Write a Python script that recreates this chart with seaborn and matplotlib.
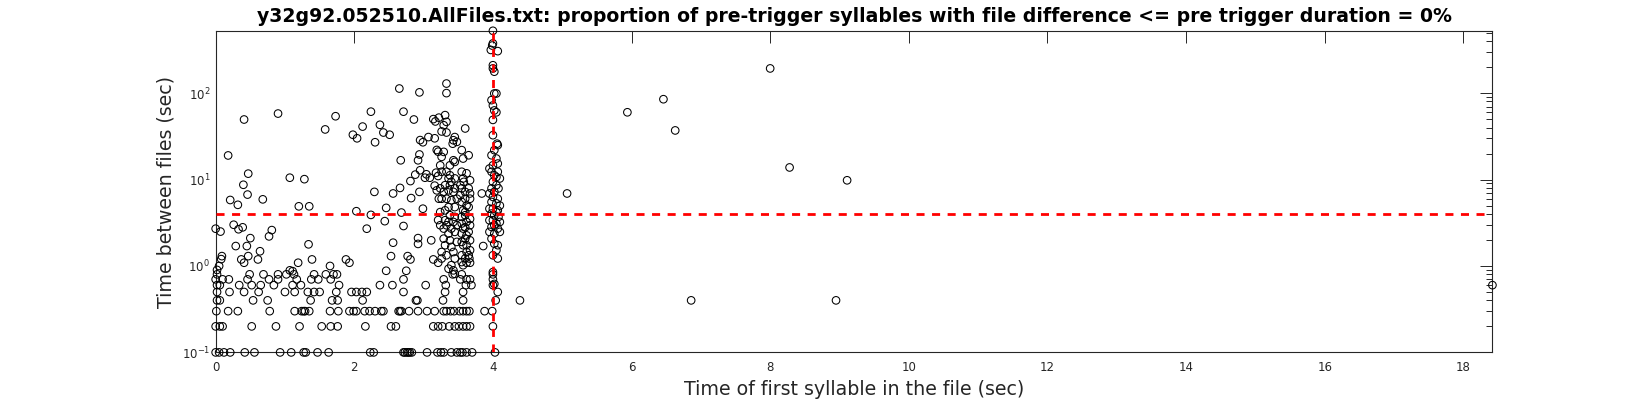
import numpy as np
import pandas as pd
import matplotlib
matplotlib.use('Agg')
import matplotlib.pyplot as plt
import seaborn as sns

# ---- data ----
# rows of quantised file differences (x values of first syllable per row)
row_y = [0.1, 0.2, 0.3, 0.4, 0.5, 0.6, 0.7, 0.8]
row_x = [
    [0.0, 0.05, 0.12, 0.21, 0.42, 0.56, 0.93, 1.09, 1.27, 1.30, 1.47, 1.63, 2.23, 2.28,
     2.71, 2.73, 2.76, 2.78, 2.80, 2.83, 3.05, 3.20, 3.25, 3.29, 3.40, 3.48, 3.53, 3.56,
     3.62, 3.70, 4.03],
    [0.0, 0.06, 0.10, 0.52, 0.87, 1.21, 1.53, 1.66, 1.76, 2.16, 2.53, 2.60, 3.14, 3.21,
     3.27, 3.37, 3.45, 3.51, 3.57, 3.62, 3.67, 4.0],
    [0.01, 0.18, 0.32, 0.78, 1.14, 1.24, 1.27, 1.29, 1.35, 1.65, 1.77, 1.93, 1.99, 2.03,
     2.15, 2.22, 2.30, 2.39, 2.42, 2.64, 2.66, 2.68, 2.79, 2.92, 3.05, 3.16, 3.29, 3.33,
     3.39, 3.44, 3.52, 3.57, 3.62, 3.66, 3.88, 3.99],
    [0.02, 0.06, 0.54, 0.75, 1.37, 1.68, 1.76, 2.12, 2.89, 2.91, 3.28, 3.57, 4.04, 4.39,
     6.86, 8.95],
    [0.02, 0.20, 0.41, 0.62, 1.00, 1.14, 1.33, 1.42, 1.50, 1.74, 1.96, 2.03, 2.11, 2.18,
     2.71, 3.31, 3.57, 4.07],
    [0.02, 0.06, 0.34, 0.52, 0.65, 0.84, 1.11, 1.23, 1.78, 2.37, 2.55, 3.03, 3.32, 3.61,
     3.69, 4.0, 18.42],
    [0.0, 0.10, 0.19, 0.46, 0.77, 0.90, 1.17, 1.38, 1.48, 1.66, 2.71, 3.29, 3.53, 3.62,
     3.67, 4.0],
    [0.02, 0.49, 0.69, 0.90, 1.02, 1.13, 1.42, 1.59, 1.70, 1.75, 3.42, 3.55, 4.0],
]

# first syllable before 2 s
left_x = [0.41, 0.90, 1.73, 1.58, 1.98, 0.18, 0.47, 0.40, 0.46, 0.21, 0.32, 0.68, 1.07,
          1.28, 1.20, 1.35, 0.0, 0.07, 0.26, 0.33, 0.39, 0.77, 0.81, 0.50, 0.29, 0.45,
          1.34, 0.64, 0.37, 0.47, 0.41, 0.61, 1.39, 1.19, 1.88, 1.93, 0.09, 0.08, 0.05,
          0.02, 1.11, 1.07, 1.65]
left_y = [49.5, 58, 54, 38, 33, 19, 11.7, 8.7, 6.7, 5.8, 5.1, 5.9, 10.5,
          10.1, 4.9, 4.9, 2.7, 2.5, 3.0, 2.66, 2.8, 2.2, 2.6, 2.1, 1.7, 1.7,
          1.78, 1.48, 1.19, 1.3, 1.09, 1.19, 1.19, 1.09, 1.19, 1.09, 1.3, 1.2, 1.0,
          0.9, 0.87, 0.89, 1.0]

# between 2 s and the dense cluster
mid_x = [2.65, 2.94, 2.24, 2.71, 2.86, 3.14, 3.17, 3.22, 2.12, 2.37, 2.42, 2.51, 2.04,
         2.30, 2.95, 2.99, 3.07, 3.16, 3.21, 3.19, 2.94, 2.92, 2.67, 2.95, 3.04, 3.09,
         3.02, 2.88, 2.81, 3.18, 3.21, 2.66, 2.56, 2.29, 2.94, 2.82, 3.16, 3.19, 3.22,
         2.03, 2.46, 2.68, 2.99, 2.24, 2.44, 2.18, 2.71, 3.21, 2.56, 2.92, 2.92, 3.11,
         2.53, 2.77, 2.81, 2.46, 2.75, 3.14, 3.21]
mid_y = [113, 102, 61, 61, 49.5, 50, 47, 52, 41, 43, 35, 33, 30,
         27, 28.6, 27, 31, 30, 21, 22, 19.5, 16.7, 16.7, 12.8, 11.5, 10.5,
         10.5, 11.4, 9.6, 12, 11, 8.0, 6.9, 7.2, 7.2, 6.1, 8.5, 7.5, 6.0,
         4.3, 4.7, 4.15, 4.6, 3.9, 3.3, 2.7, 2.9, 3.4, 1.86, 2.1, 1.8, 1.98,
         1.3, 1.3, 1.19, 0.88, 0.88, 1.19, 1.09]

# dense cluster 3.2 - 3.9 s
cluster_x = [3.33, 3.33, 3.31, 3.33, 3.29, 3.26, 3.33, 3.45, 3.43, 3.48, 3.42, 3.60,
             3.55, 3.65, 3.57, 3.43, 3.45, 3.38, 3.29, 3.26, 3.33, 3.38, 3.45, 3.57,
             3.58, 3.65, 3.53, 3.38, 3.43, 3.29, 3.33, 3.53, 3.60, 3.67, 3.62, 3.57,
             3.60, 3.45, 3.31, 3.38, 3.31, 3.33, 3.43, 3.48, 3.29, 3.40, 3.60, 3.62,
             3.57, 3.65, 3.60, 3.57, 3.62, 3.60, 3.55, 3.66, 3.38, 3.43, 3.31, 3.33,
             3.26, 3.40, 3.43, 3.45, 3.36,
             3.24, 3.26, 3.36, 3.40, 3.31, 3.24, 3.36, 3.45, 3.26, 3.40, 3.48, 3.36,
             3.24, 3.45, 3.36, 3.24, 3.45, 3.36, 3.29, 3.48, 3.40, 3.26, 3.45,
             3.55, 3.62, 3.67, 3.55, 3.60, 3.67, 3.55, 3.65, 3.55, 3.67, 3.55, 3.60,
             3.67, 3.55, 3.62, 3.67, 3.55, 3.62, 3.67, 3.55, 3.65, 3.57, 3.62, 3.67,
             3.84, 3.86]
cluster_y = [129, 100, 55.6, 46.5, 42.5, 36, 35, 31, 28.5, 27.3, 26, 39,
             21.9, 19.1, 17.5, 16.7, 16, 14.6, 20.9, 18.3, 12.3, 11.2, 10.3, 10.3,
             9.4, 7.9, 8.6, 8.6, 7.2, 7.2, 6.0, 6.6, 6.0, 6.0, 5.0, 4.4,
             4.2, 4.8, 4.4, 3.86, 3.38, 2.96, 3.23, 2.96, 2.71, 2.71, 3.86, 3.23,
             2.71, 2.48, 2.07, 1.74, 1.45, 1.22, 1.11, 1.22, 1.98, 1.45, 1.74, 1.33,
             1.22, 1.02, 0.89, 0.81, 0.93,
             14.6, 12.3, 10.3, 9.4, 8.6, 7.9, 7.5, 7.9, 6.0, 5.76, 6.0, 4.8,
             4.2, 3.7, 3.23, 2.96, 2.48, 2.37, 2.07, 1.9, 1.66, 1.45, 1.22,
             12.3, 11.8, 9.8, 7.9, 7.2, 6.9, 5.5, 4.8, 3.7, 3.5, 3.1, 2.8,
             2.96, 2.37, 2.26, 1.98, 1.9, 1.74, 1.52, 1.33, 1.33, 1.02, 1.09, 1.09,
             6.9, 1.7]

# column of files near the 4 s trigger
column_x = [4.0, 4.0, 4.07, 3.97, 3.99, 4.0, 4.0, 4.02, 4.02, 4.05, 3.98, 4.0, 4.02,
            4.05, 4.0, 4.0, 4.06, 4.02, 4.07, 3.98, 4.05, 4.07, 4.0, 3.98, 4.07, 4.02,
            4.10, 4.0, 4.05, 3.98, 4.08, 4.02, 4.0, 4.07, 3.98, 4.05, 4.0, 4.07, 3.98,
            4.02, 4.08, 4.0, 4.05, 3.98, 4.07, 4.02, 4.10, 3.98, 4.02, 4.07, 4.05, 4.0,
            4.07, 4.0, 4.02, 3.95, 4.05, 3.95, 4.10, 3.95, 4.05, 3.95, 4.10, 4.02, 3.95]
column_y = [526, 376, 306, 316, 355, 210, 193, 177, 99, 99, 83, 72, 63,
            60, 49, 32.6, 26, 21.9, 25, 19.1, 17.5, 15.3, 14.6, 12.3, 12.3, 11.2,
            10.3, 9.4, 8.6, 7.9, 7.9, 7.2, 6.3, 6.0, 5.5, 5.3, 4.6, 4.4, 4.04,
            3.86, 3.7, 3.38, 3.1, 2.83, 2.71, 2.37, 2.48, 2.07, 1.81, 1.74, 1.52, 1.33,
            1.22, 0.85, 0.62, 13.4, 10.7, 6.9, 5.0, 4.6, 4.2, 3.38, 3.23, 2.96, 2.48]

# late first syllables
right_x = [5.07, 5.94, 6.46, 6.63, 8.00, 8.28, 9.11]
right_y = [6.9, 60, 85, 37, 193, 13.8, 9.8]

pre_trigger = 4.0
title = ('y32g92.052510.AllFiles.txt: proportion of pre-trigger syllables '
         'with file difference <= pre trigger duration = 0%')

# ---- assemble ----
xs, ys = [], []
for yv, xr in zip(row_y, row_x):
    xs += xr
    ys += [yv] * len(xr)
for a, b in [(left_x, left_y), (mid_x, mid_y), (cluster_x, cluster_y),
             (column_x, column_y), (right_x, right_y)]:
    xs += a
    ys += b
df = pd.DataFrame({'first_syll': xs, 'file_diff': ys})

sns.set_style('white')
plt.rcParams['font.family'] = ['DejaVu Sans']
dark = '#262626'

fig = plt.figure(figsize=(16.5, 4), dpi=100)
ax = fig.add_axes([0.1307, 0.119, 0.9045 - 0.1307, 0.923 - 0.119])

sns.scatterplot(data=df, x='first_syll', y='file_diff', ax=ax, s=30,
                facecolor='none', edgecolor='black', linewidth=0.75,
                marker='o', clip_on=False, zorder=3)

ax.set_yscale('log')
ax.set_xlim(0, df['first_syll'].max())
ax.set_ylim(df['file_diff'].min(), df['file_diff'].max())

ax.axvline(pre_trigger, color='red', lw=2, dashes=(2.9, 2.7), zorder=4)
ax.axhline(pre_trigger, color='red', lw=2, dashes=(2.9, 2.7), zorder=4)

ax.set_xticks(np.arange(0, 19, 2))
ax.tick_params(axis='both', which='both', direction='in', top=True, right=True,
               colors=dark, labelcolor=dark, labelsize=8.5)
ax.tick_params(axis='both', which='major', length=8.5, width=0.7)
ax.tick_params(axis='x', which='major', pad=6.5)
ax.tick_params(axis='y', which='major', pad=4)
ax.tick_params(axis='y', which='minor', length=4.3, width=0.7)
for sp in ax.spines.values():
    sp.set_color(dark)
    sp.set_linewidth(0.8)

ax.set_xlabel('Time of first syllable in the file (sec)', fontsize=13.7, color=dark, labelpad=4)
ax.set_ylabel('Time between files (sec)', fontsize=13.7, color=dark, labelpad=4.5)
ax.set_title(title, fontsize=13.6, weight='bold', color='black', pad=6)

fig.savefig('out.png', dpi=100, facecolor='white')
